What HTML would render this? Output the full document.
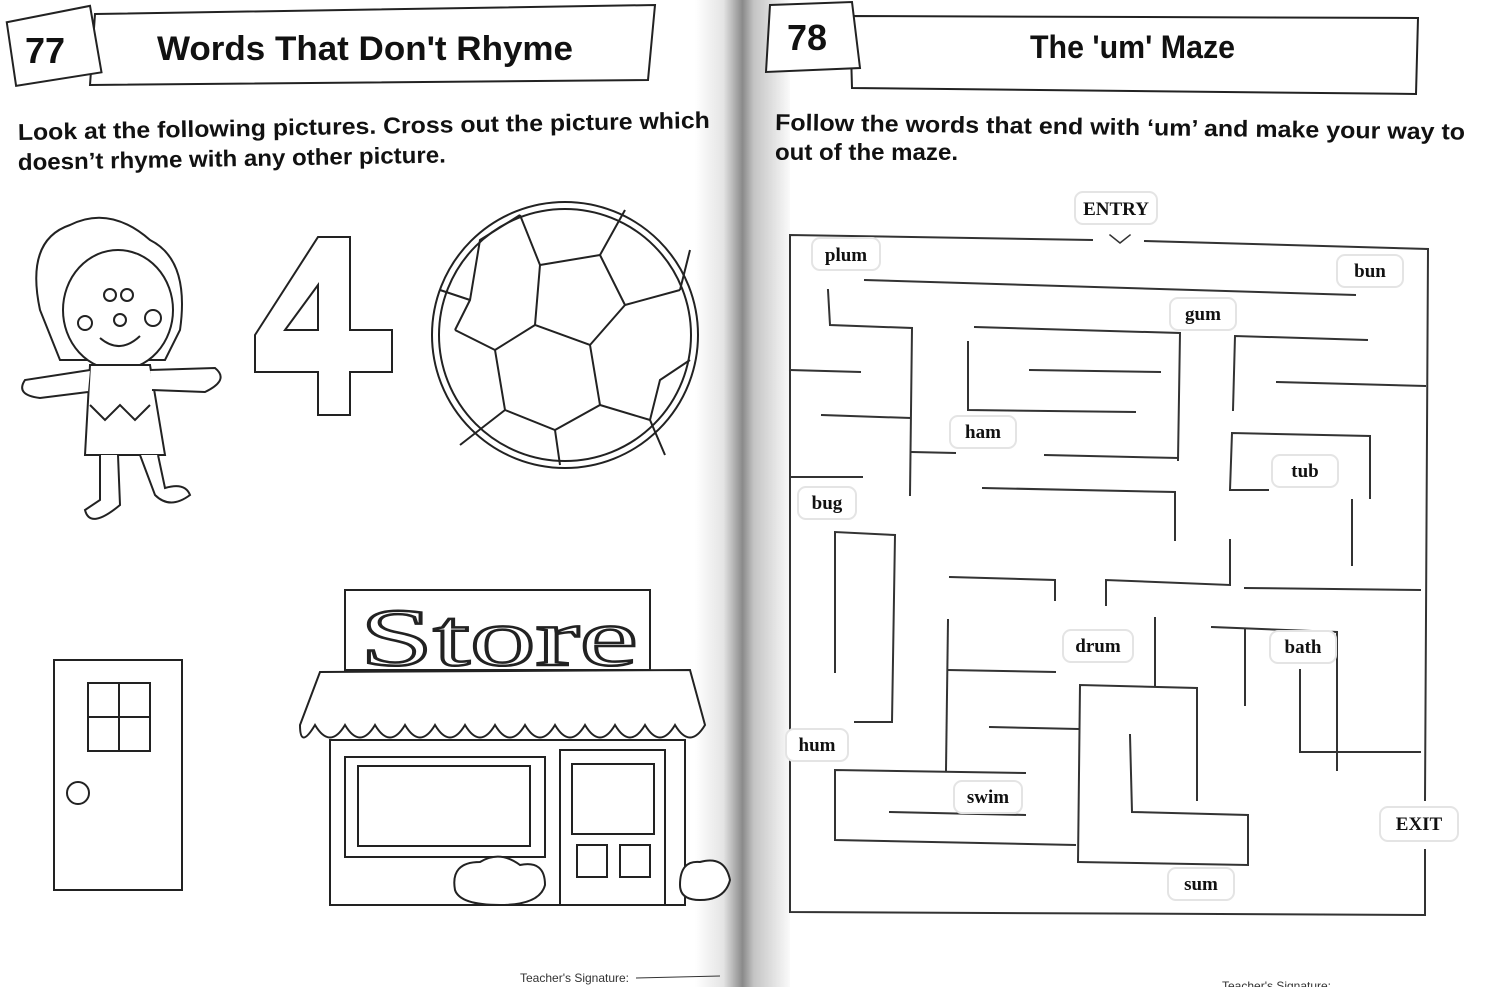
<!DOCTYPE html>
<html><head><meta charset="utf-8"><style>
body{margin:0;width:1500px;height:987px;overflow:hidden;background:#fff;font-family:"Liberation Sans",sans-serif}
svg{position:absolute;left:0;top:0}
</style></head><body>
<svg width="1500" height="987" viewBox="0 0 1500 987" xmlns="http://www.w3.org/2000/svg">
<defs>
<linearGradient id="g" x1="0" x2="1">
<stop offset="0" stop-color="#fff"/><stop offset="0.3" stop-color="#e4e4e4"/><stop offset="0.5" stop-color="#8a8a8a"/><stop offset="0.62" stop-color="#c4c4c4"/><stop offset="1" stop-color="#fafafa"/>
</linearGradient>
</defs>
<rect x="695" y="0" width="95" height="987" fill="url(#g)"/>
<g stroke="#222" stroke-width="2" fill="#fff">
<path d="M95 14 L655 5 L648 80 L90 85 Z"/>
<path d="M8 20 L92 8 L100 75 L14 84 Z" transform="rotate(-3 50 45)"/>
<path d="M850 16 L1418 18 L1416 94 L852 88 Z"/>
<path d="M770 5 L852 2 L860 68 L766 72 Z"/>
</g>
<g fill="#111" font-family="Liberation Sans,sans-serif" font-weight="bold">
<text x="25" y="63" font-size="36">77</text>
<text x="157" y="60" font-size="34" textLength="416" lengthAdjust="spacingAndGlyphs">Words That Don't Rhyme</text>
<text x="787" y="50" font-size="36">78</text>
<text x="1030" y="58" font-size="32" textLength="205" lengthAdjust="spacingAndGlyphs">The 'um' Maze</text>
<text x="18" y="140" font-size="23" textLength="692" lengthAdjust="spacingAndGlyphs" transform="rotate(-1 18 140)">Look at the following pictures. Cross out the picture which</text>
<text x="18" y="170" font-size="23" textLength="428" lengthAdjust="spacingAndGlyphs" transform="rotate(-1 18 170)">doesn’t rhyme with any other picture.</text>
<text x="775" y="130" font-size="23" textLength="690" lengthAdjust="spacingAndGlyphs" transform="rotate(0.8 775 130)">Follow the words that end with ‘um’ and make your way to</text>
<text x="775" y="160" font-size="23" textLength="183" lengthAdjust="spacingAndGlyphs">out of the maze.</text>
</g>
<g fill="#333" font-size="12">
<text x="520" y="982">Teacher's Signature:</text>
<line x1="636" y1="978" x2="720" y2="976" stroke="#333"/>
<text x="1222" y="990">Teacher's Signature:</text>
</g>
<g stroke="#222" stroke-width="2" fill="#fff">
<path d="M40 310 Q25 240 70 225 Q110 205 150 240 Q190 260 180 330 L165 360 L60 360 Z"/>
<ellipse cx="118" cy="310" rx="55" ry="60"/>
<circle cx="85" cy="323" r="7"/><circle cx="153" cy="318" r="8"/>
<circle cx="110" cy="295" r="6"/><circle cx="127" cy="295" r="6"/>
<circle cx="120" cy="320" r="6"/>
<path d="M100 338 Q120 355 140 336" fill="none"/>
<path d="M90 365 L150 365 L165 455 L85 455 Z"/>
<path d="M90 370 L25 380 Q15 395 40 398 L88 392"/>
<path d="M150 370 L215 368 Q230 380 205 392 L152 390"/>
<path d="M90 405 L105 420 L120 405 L135 420 L150 405" fill="none"/>
<path d="M100 455 L100 500 L85 510 Q90 530 120 505 L118 455"/>
<path d="M140 455 L155 495 Q170 510 190 495 Q185 482 165 488 L158 455"/>
</g>
<path d="M318 237 L350 237 L350 330 L392 330 L392 372 L350 372 L350 415 L318 415 L318 372 L255 372 L255 335 Z M318 285 L285 330 L318 330 Z" fill="#fff" stroke="#222" stroke-width="2"/>
<g stroke="#222" stroke-width="2" fill="none">
<circle cx="565" cy="335" r="133"/>
<circle cx="565" cy="335" r="126"/>
<path d="M540 265 L600 255 L625 305 L590 345 L535 325 Z"/>
<path d="M540 265 L520 215 M600 255 L625 210 M625 305 L680 290 M590 345 L600 405 M535 325 L495 350"/>
<path d="M495 350 L455 330 M495 350 L505 410 L460 445 M505 410 L555 430 L600 405 L650 420 L660 380 L690 360 M600 405 L650 420 L665 455 M555 430 L560 465 M680 290 L690 250 M520 215 L480 240 L470 300 L455 330 M470 300 L440 290"/>
</g>
<g stroke="#222" stroke-width="2" fill="#fff">
<rect x="54" y="660" width="128" height="230"/>
<rect x="88" y="683" width="62" height="68"/>
<line x1="119" y1="683" x2="119" y2="751"/><line x1="88" y1="717" x2="150" y2="717"/>
<circle cx="78" cy="793" r="11"/>
</g>
<g stroke="#222" stroke-width="2" fill="#fff">
<rect x="345" y="590" width="305" height="80"/>
<path d="M320 672 L690 670 L705 725 Q690 750 675 725 Q660 750 645 725 Q630 750 615 725 Q600 750 585 725 Q570 750 555 725 Q540 750 525 725 Q510 750 495 725 Q480 750 465 725 Q450 750 435 725 Q420 750 405 725 Q390 750 375 725 Q360 750 345 725 Q330 750 315 725 Q300 750 300 725 Z"/>
<rect x="330" y="740" width="355" height="165"/>
<rect x="345" y="757" width="200" height="100"/>
<rect x="358" y="766" width="172" height="80"/>
<rect x="560" y="750" width="105" height="155"/>
<rect x="572" y="764" width="82" height="70"/>
<rect x="577" y="845" width="30" height="32"/><rect x="620" y="845" width="30" height="32"/>
<path d="M455 890 Q450 862 480 862 Q500 850 520 865 Q545 860 545 885 Q540 905 500 905 Q460 905 455 890 Z"/>
<path d="M680 885 Q680 860 700 862 Q725 855 730 880 Q725 900 700 900 Q680 900 680 885 Z"/>
</g>
<text x="360" y="665" font-family="Liberation Serif,serif" font-size="82" textLength="278" lengthAdjust="spacingAndGlyphs" fill="#fff" stroke="#222" stroke-width="2.5">Store</text>
<g stroke="#333" stroke-width="2" fill="none" stroke-linecap="square">
<path d="M1092 240 L790 235 L790 912 L1425 915 L1425 850"/>
<path d="M1145 241 L1428 249 L1425 800"/>
<path d="M1110 235 L1120 243 L1130 235" stroke-width="1.5"/>
<path d="M865 280 L1355 295"/>
<path d="M828 290 L830 325 L912 328 L910 495"/>
<path d="M975 327 L1180 333 L1178 460"/>
<path d="M968 342 L968 410 L1135 412"/>
<path d="M1030 370 L1160 372"/>
<path d="M790 370 L860 372"/>
<path d="M822 415 L910 418"/>
<path d="M912 452 L955 453"/>
<path d="M1045 455 L1178 458"/>
<path d="M1367 340 L1235 336 L1233 410"/>
<path d="M1277 382 L1425 386"/>
<path d="M1268 490 L1230 490 L1232 433 L1370 436 L1370 498"/>
<path d="M790 477 L862 477"/>
<path d="M983 488 L1175 492 L1175 540"/>
<path d="M895 535 L835 532 L835 672"/>
<path d="M895 535 L892 722 L855 722"/>
<path d="M1230 540 L1230 585 L1106 580 L1106 605"/>
<path d="M1352 500 L1352 565"/>
<path d="M950 577 L1055 580 L1055 600"/>
<path d="M1245 588 L1420 590"/>
<path d="M948 620 L946 770"/>
<path d="M948 670 L1055 672"/>
<path d="M1155 618 L1155 685"/>
<path d="M1078 862 L1080 685 L1197 688 L1197 800"/>
<path d="M1212 627 L1337 632 L1337 770"/>
<path d="M1245 630 L1245 705"/>
<path d="M1300 670 L1300 752 L1420 752"/>
<path d="M990 727 L1078 729"/>
<path d="M1130 735 L1132 812 L1248 815 L1248 865 L1078 862"/>
<path d="M1025 773 L835 770 L835 840 L1075 845"/>
<path d="M890 812 L1025 815"/>
</g>
<g font-family="Liberation Serif,serif" font-weight="bold" font-size="19" fill="#111" text-anchor="middle">
<g fill="#fff" stroke="#e4e4e4" stroke-width="2">
<rect x="1075" y="192" width="82" height="32" rx="8"/>
<rect x="812" y="238" width="68" height="32" rx="8"/>
<rect x="1337" y="255" width="66" height="32" rx="8"/>
<rect x="1170" y="298" width="66" height="32" rx="8"/>
<rect x="950" y="416" width="66" height="32" rx="8"/>
<rect x="1272" y="455" width="66" height="32" rx="8"/>
<rect x="798" y="487" width="58" height="32" rx="8"/>
<rect x="1063" y="630" width="70" height="32" rx="8"/>
<rect x="1270" y="631" width="66" height="32" rx="8"/>
<rect x="786" y="729" width="62" height="32" rx="8"/>
<rect x="954" y="781" width="68" height="32" rx="8"/>
<rect x="1380" y="807" width="78" height="34" rx="8"/>
<rect x="1168" y="868" width="66" height="32" rx="8"/>
</g>
<text x="1116" y="215">ENTRY</text>
<text x="846" y="261">plum</text>
<text x="1370" y="277">bun</text>
<text x="1203" y="320">gum</text>
<text x="983" y="438">ham</text>
<text x="1305" y="477">tub</text>
<text x="827" y="509">bug</text>
<text x="1098" y="652">drum</text>
<text x="1303" y="653">bath</text>
<text x="817" y="751">hum</text>
<text x="988" y="803">swim</text>
<text x="1419" y="830">EXIT</text>
<text x="1201" y="890">sum</text>
</g>
</svg>
</body></html>
